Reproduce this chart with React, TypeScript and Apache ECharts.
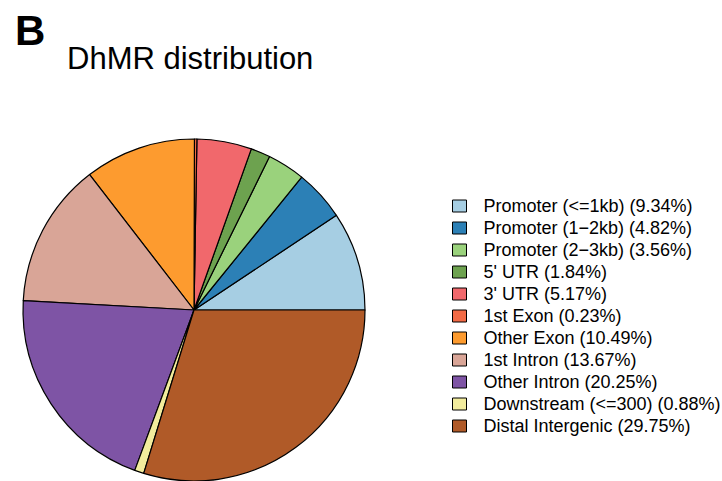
import React, { useEffect, useRef } from "react";
import * as echarts from "echarts";

const categories = [
  "Promoter (<=1kb)",
  "Promoter (1−2kb)",
  "Promoter (2−3kb)",
  "5' UTR",
  "3' UTR",
  "1st Exon",
  "Other Exon",
  "1st Intron",
  "Other Intron",
  "Downstream (<=300)",
  "Distal Intergenic",
];
const percents = [9.34, 4.82, 3.56, 1.84, 5.17, 0.23, 10.49, 13.67, 20.25, 0.88, 29.75];
const colors = [
  "#A6CEE3",
  "#2C80B6",
  "#9AD27C",
  "#6DA24F",
  "#F1686C",
  "#F26A45",
  "#FD9B2F",
  "#D9A597",
  "#7E54A5",
  "#F2EC9D",
  "#B05A28",
];

export default function App() {
  const ref = useRef<HTMLDivElement>(null);
  useEffect(() => {
    if (!ref.current) return;
    const chart = echarts.init(ref.current, undefined, { renderer: "svg" });
    const font = "'Liberation Sans', Arial, Helvetica, sans-serif";
    chart.setOption({
      animation: false,
      backgroundColor: "#ffffff",
      title: [
        {
          text: "B",
          left: 10,
          top: 4,
          textStyle: { fontSize: 42, fontWeight: "bold", color: "#000", fontFamily: font },
        },
        {
          text: "DhMR distribution",
          left: 62,
          top: 38,
          textStyle: { fontSize: 31, fontWeight: "normal", color: "#000", fontFamily: font },
        },
      ],
      legend: {
        orient: "vertical",
        left: 447,
        top: 192,
        itemWidth: 14,
        itemHeight: 12,
        itemGap: 4,
        icon: "rect",
        selectedMode: false,
        itemStyle: { borderColor: "#000", borderWidth: 1 },
        textStyle: {
          fontSize: 18,
          lineHeight: 18,
          color: "#000",
          fontFamily: font,
          padding: [0, 0, 0, 12],
        },
        formatter: (name: string) => {
          const i = categories.indexOf(name);
          return `${name} (${percents[i].toFixed(2)}%)`;
        },
        data: categories,
      },
      series: [
        {
          type: "pie",
          center: [194, 310],
          radius: [0, 171],
          startAngle: 0,
          clockwise: false,
          minAngle: 0,
          avoidLabelOverlap: false,
          label: { show: false },
          labelLine: { show: false },
          emphasis: { disabled: true },
          itemStyle: { borderColor: "#000", borderWidth: 1.2 },
          data: categories.map((c, i) => ({
            name: c,
            value: percents[i],
            itemStyle: { color: colors[i] },
          })),
        },
      ],
    });
    return () => chart.dispose();
  }, []);
  return (
    <div
      ref={ref}
      style={{ position: "fixed", left: 0, top: 0, width: 722, height: 481 }}
    />
  );
}
